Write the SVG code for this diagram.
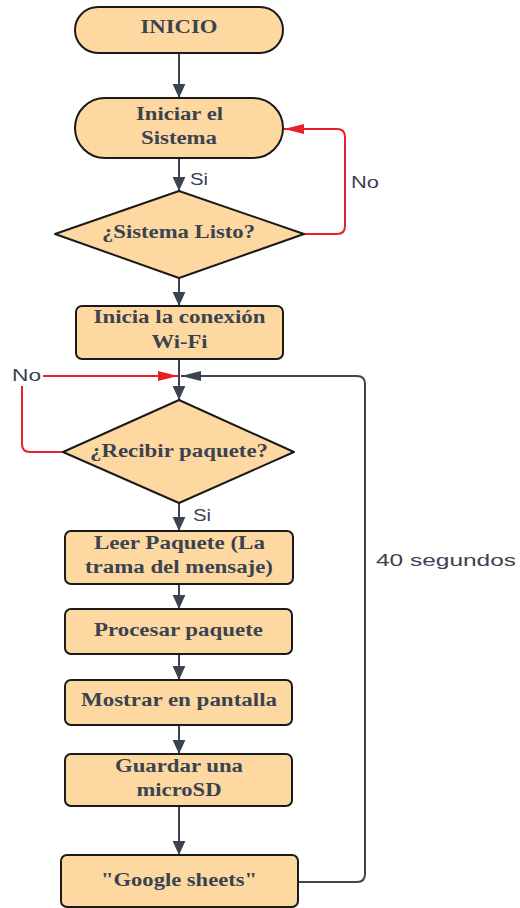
<svg xmlns="http://www.w3.org/2000/svg" width="520" height="908" viewBox="0 0 520 908">
<style>
.shape{fill:#fdd9a1;stroke:#1a1a1a;stroke-width:2}
.t{font-family:"Liberation Serif","Times New Roman",serif;font-weight:bold;font-size:18.5px;fill:#3b4250;text-anchor:middle}
.l{font-family:"Liberation Sans",Arial,sans-serif;font-size:16px;fill:#3b4250}
.c{fill:none;stroke:#3d4450;stroke-width:2}
.r{fill:none;stroke:#e8202a;stroke-width:2}
</style>
<defs>
<marker id="av" markerUnits="userSpaceOnUse" markerWidth="14" markerHeight="14" refX="12" refY="5.5" orient="auto" viewBox="0 0 12 11"><path d="M0,0 L12,5.5 L0,11 Z" fill="#3d4450"/></marker>
<marker id="ah" markerUnits="userSpaceOnUse" markerWidth="20" markerHeight="10" refX="18" refY="4.5" orient="auto" viewBox="0 0 18 9"><path d="M0,0 L18,4.5 L0,9 Z" fill="#3d4450"/></marker>
<marker id="ahr" markerUnits="userSpaceOnUse" markerWidth="20" markerHeight="10" refX="18" refY="4.5" orient="auto" viewBox="0 0 18 9"><path d="M0,0 L18,4.5 L0,9 Z" fill="#e8202a"/></marker>
</defs>
<rect width="520" height="908" fill="#ffffff"/>
<g id="connectors">
<path class="c" d="M179,53 V98" marker-end="url(#av)"/>
<path class="c" d="M179,158 V191" marker-end="url(#av)"/>
<path class="c" d="M179,278 V306" marker-end="url(#av)"/>
<path class="c" d="M179,359 V400" marker-end="url(#av)"/>
<path class="r" d="M303,234 H337 Q345,234 345,226 V137 Q345,129 337,129 H284" marker-end="url(#ahr)"/>
<path class="r" d="M63,452 H30 Q22,452 22,444 V384 Q22,376 30,376 H178" marker-end="url(#ahr)"/>
<path class="c" d="M298,882 H357 Q365,882 365,874 V384 Q365,376 357,376 H181" marker-end="url(#ah)"/>
<path class="c" d="M179,503 V531" marker-end="url(#av)"/>
<path class="c" d="M179,584 V609" marker-end="url(#av)"/>
<path class="c" d="M179,654 V680" marker-end="url(#av)"/>
<path class="c" d="M179,725 V754" marker-end="url(#av)"/>
<path class="c" d="M179,806 V855" marker-end="url(#av)"/>
<rect x="9" y="364" width="34" height="22" fill="#ffffff"/>
<text class="l" x="12" y="381" textLength="29" lengthAdjust="spacingAndGlyphs">No</text>
<text class="l" x="351" y="188" textLength="28" lengthAdjust="spacingAndGlyphs">No</text>
<text class="l" x="190" y="185" textLength="18" lengthAdjust="spacingAndGlyphs">Si</text>
<text class="l" x="193" y="521" textLength="18" lengthAdjust="spacingAndGlyphs">Si</text>
<text class="l" x="376" y="566" textLength="140" lengthAdjust="spacingAndGlyphs">40 segundos</text>
</g>
<g id="n-inicio">
<rect class="shape" x="75" y="7" width="208" height="46" rx="23"/>
<text class="t" x="179" y="33" textLength="77" lengthAdjust="spacingAndGlyphs">INICIO</text>
</g>
<g id="n-iniciar">
<rect class="shape" x="75" y="98" width="208" height="60" rx="30"/>
<text class="t" x="179.5" y="120" textLength="87" lengthAdjust="spacingAndGlyphs">Iniciar el</text>
<text class="t" x="179" y="144" textLength="76" lengthAdjust="spacingAndGlyphs">Sistema</text>
</g>
<g id="n-listo">
<polygon class="shape" points="179,191 304,234 179,278 55,234" stroke-linejoin="round"/>
<text class="t" x="178.5" y="238" textLength="153" lengthAdjust="spacingAndGlyphs">¿Sistema Listo?</text>
</g>
<g id="n-wifi">
<rect class="shape" x="76" y="306" width="207" height="53" rx="6"/>
<text class="t" x="179.5" y="323" textLength="172" lengthAdjust="spacingAndGlyphs">Inicia la conexión</text>
<text class="t" x="179.5" y="348" textLength="56" lengthAdjust="spacingAndGlyphs">Wi-Fi</text>
</g>
<g id="n-recibir">
<polygon class="shape" points="179,400 294,452 179,503 63,452" stroke-linejoin="round"/>
<text class="t" x="179" y="457" textLength="178" lengthAdjust="spacingAndGlyphs">¿Recibir paquete?</text>
</g>
<g id="n-leer">
<rect class="shape" x="65" y="531" width="228" height="53" rx="6"/>
<text class="t" x="179.5" y="549" textLength="171" lengthAdjust="spacingAndGlyphs">Leer Paquete (La</text>
<text class="t" x="179" y="573" textLength="188" lengthAdjust="spacingAndGlyphs">trama del mensaje)</text>
</g>
<g id="n-procesar">
<rect class="shape" x="65" y="609" width="227" height="45" rx="6"/>
<text class="t" x="178.5" y="636" textLength="169" lengthAdjust="spacingAndGlyphs">Procesar paquete</text>
</g>
<g id="n-mostrar">
<rect class="shape" x="65" y="680" width="227" height="45" rx="6"/>
<text class="t" x="179" y="706" textLength="196" lengthAdjust="spacingAndGlyphs">Mostrar en pantalla</text>
</g>
<g id="n-guardar">
<rect class="shape" x="65" y="754" width="227" height="52" rx="6"/>
<text class="t" x="179" y="772" textLength="128" lengthAdjust="spacingAndGlyphs">Guardar una</text>
<text class="t" x="179" y="796" textLength="85" lengthAdjust="spacingAndGlyphs">microSD</text>
</g>
<g id="n-google">
<rect class="shape" x="61" y="855" width="237" height="52" rx="6"/>
<text class="t" x="179" y="886" textLength="156" lengthAdjust="spacingAndGlyphs">"Google sheets"</text>
</g>
</svg>
